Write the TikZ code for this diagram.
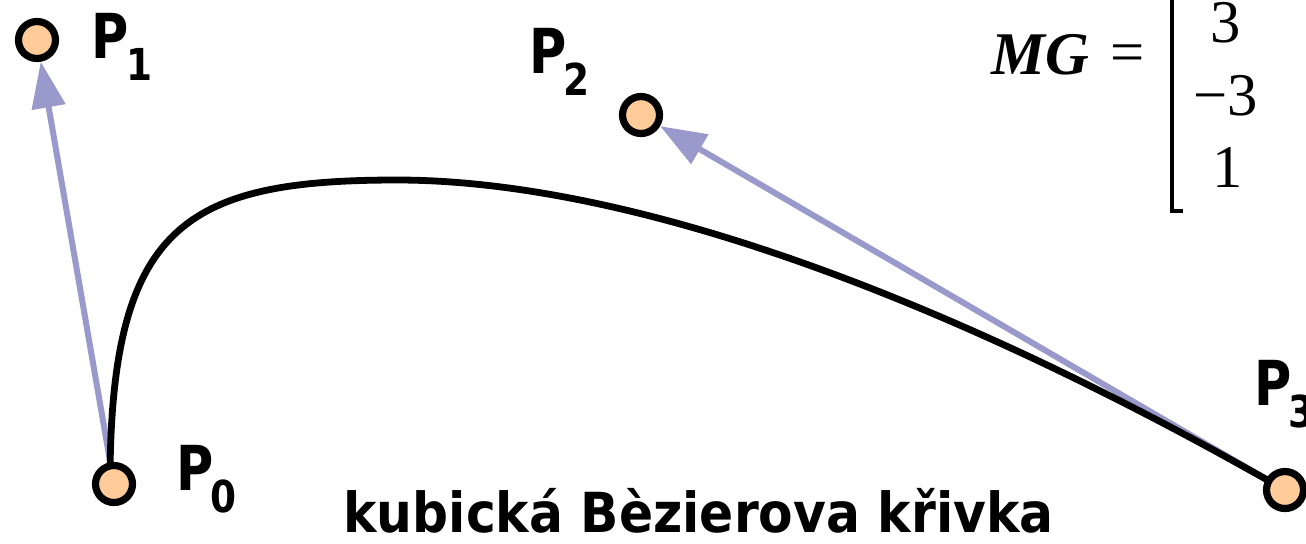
\documentclass[tikz,border=0pt]{standalone}
\usepackage{fontspec}
\usepackage{graphicx}
\usetikzlibrary{arrows.meta,backgrounds}
\newfontfamily\dvs{DejaVu Sans}
\newfontfamily\tnr{Liberation Serif}
\definecolor{peach}{HTML}{FFCC99}
\definecolor{vecblue}{HTML}{9999CC}
\newcommand\psub[1]{\raisebox{-11pt}{\fontsize{22}{26}\selectfont\scalebox{0.85}[1]{#1}}}
\newcommand\pP{\scalebox{0.82}[1]{P}}
\begin{document}
\begin{tikzpicture}[x=0.5pt,y=-0.5pt,
  ctrlpt/.style={circle,draw=black,line width=3.6pt,fill=peach,minimum size=18.5pt,inner sep=0pt},
  vec/.style={draw=vecblue,line width=3pt,-{Triangle[length=23pt,width=16.5pt]}},
  curvestyle/.style={draw=black,line width=3.4pt},
  lbl/.style={anchor=base west,inner sep=0pt,font=\dvs\bfseries\fontsize{31}{36}\selectfont},
  serif/.style={inner sep=0pt,font=\tnr\fontsize{30.3}{36}\selectfont},
  caption/.style={anchor=base west,inner sep=0pt,font=\dvs\bfseries\fontsize{27.6}{33}\selectfont}]
\useasboundingbox (0,0) rectangle (1306,543);
\clip (0,0) rectangle (1306,543);
% control points
\node[ctrlpt] (P0) at (114,484) {};
\node[ctrlpt] (P1) at (37,40) {};
\node[ctrlpt] (P2) at (641,115) {};
\node[ctrlpt] (P3) at (1285,490) {};
\coordinate (top) at (397,180);
% labels
\node[lbl] (L0) at (176,490) {\pP\hspace{-1.5pt}\psub{0}};
\node[lbl] (L1) at (91,58) {\pP\hspace{-1pt}\psub{1}};
\node[lbl] (L2) at (529,73) {\pP\hspace{-1.5pt}\psub{2}};
\node[lbl] (L3) at (1254,405) {\pP\hspace{-1.5pt}\psub{3}};
% matrix
\node[serif,anchor=base east,font=\tnr\bfseries\itshape\fontsize{30.3}{36}\selectfont] (mg) at (1090,74) {MG};
\node[serif,anchor=base west] (eq) at (1110,72) {=};
\node[serif,anchor=base] (m1) at (1226,42) {3};
\node[serif,anchor=base] (m2) at (1226,115) {−3};
\node[serif,anchor=base] (m3) at (1228,187) {1};
\draw[line width=2pt,line join=miter] (1172,-10) -- (1172,211) -- (1183,211);
% caption
\node[caption] (cap) at (343,532) {\scalebox{0.912}[1]{kubická Bèzierova křivka}};
\begin{scope}[on background layer]
  \draw[vec] (P0.center) -- (P1);
  \draw[vec] (P3.center) -- (P2);
  \draw[curvestyle] ([xshift=-2pt]P0.center) .. controls (110,225) and (185,180) .. (top)
        .. controls (600,180) and (900,270) .. (P3.center);
\end{scope}
\end{tikzpicture}
\end{document}
